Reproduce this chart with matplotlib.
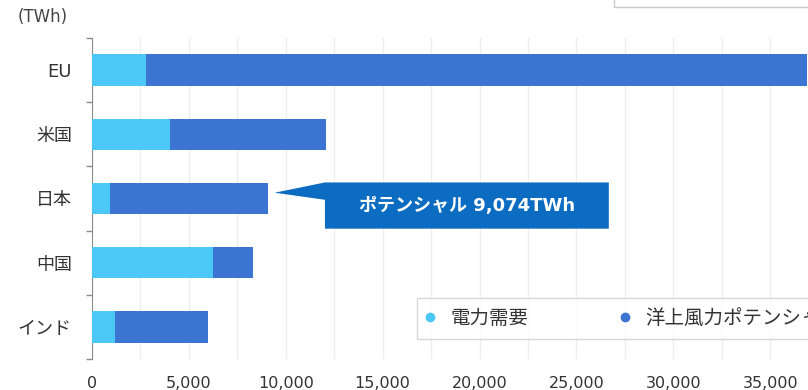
import matplotlib
matplotlib.use("Agg")
import matplotlib.pyplot as plt
from matplotlib.lines import Line2D
from matplotlib.patches import Polygon, Rectangle

plt.rcParams['font.family'] = ['DejaVu Sans', 'Noto Sans CJK JP']

# 各国・地域の電力需要と洋上風力ポテンシャル (TWh)
regions = ['EU', '米国', '日本', '中国', 'インド']
demand = [2800, 4000, 920, 6250, 1180]
potential = [36900, 12100, 9074, 8300, 5990]
xticks = [0, 5000, 10000, 15000, 20000, 25000, 30000, 35000]

c_demand = '#4CC8F6'
c_potential = '#3C74D2'
c_callout = '#0C6CC2'
c_text = '#333333'

fig = plt.figure(figsize=(8.08, 3.9), dpi=100)
ax = fig.add_axes([92 / 808, 31 / 390, 775 / 808, 321 / 390])

y = range(len(regions))
ax.barh(y, potential, height=0.49, color=c_potential, zorder=2)
ax.barh(y, demand, height=0.49, color=c_demand, zorder=3)

ax.set_xlim(0, 40000)
ax.set_ylim(len(regions) - 0.5, -0.5)

ax.set_xticks(xticks)
ax.set_xticklabels([f'{v:,}' for v in xticks])
ax.set_xticks([v for v in range(0, 40001, 2500)], minor=True)
ax.grid(axis='x', which='both', color='#EEEEEE', linewidth=1, zorder=0)
ax.tick_params(axis='x', which='both', length=0, pad=12, labelsize=11.5, labelcolor=c_text)

ax.set_yticks(list(y))
ax.set_yticklabels(regions)
ax.set_yticks([i - 0.5 for i in range(len(regions) + 1)], minor=True)
ax.tick_params(axis='y', which='major', length=0, pad=14.5, labelsize=13, labelcolor=c_text)
ax.tick_params(axis='y', which='minor', length=4.5, width=1, color='#8C8C8C')

for side in ['top', 'right', 'bottom']:
    ax.spines[side].set_visible(False)
ax.spines['left'].set_color('#8C8C8C')

fig.text(18 / 808, 1 - 17 / 390, '(TWh)', fontsize=12, color='#444444', va='center', ha='left')

# 日本のポテンシャルを示す吹き出し
jp = regions.index('日本')
jv = potential[jp]
tip_x, box_l, box_r = jv + 350, jv + 2950, jv + 17600
box_t, box_b = jp - 0.25, jp + 0.47
callout = Polygon([(tip_x, jp - 0.09), (box_l, box_t), (box_r, box_t), (box_r, box_b),
                   (box_l, box_b), (box_l, jp + 0.02)],
                  closed=True, facecolor=c_callout, edgecolor='none', zorder=4)
ax.add_patch(callout)
ax.text((box_l + box_r) / 2, (box_t + box_b) / 2, f'ポテンシャル {jv:,}TWh',
        color='white', fontsize=13, fontweight='bold', ha='center', va='center', zorder=5)

# 凡例
handles = [Line2D([], [], linestyle='none', marker='o', markersize=6, color=c_demand),
           Line2D([], [], linestyle='none', marker='o', markersize=6, color=c_potential)]
leg = fig.legend(handles, ['電力需要', '洋上風力ポテンシャル'], ncol=2,
                 loc='upper left', bbox_to_anchor=(417 / 808, 1 - 298 / 390),
                 borderaxespad=0, fontsize=14, frameon=True, fancybox=False,
                 borderpad=0.57, handlelength=0.2, handletextpad=0.95, columnspacing=4.85,
                 labelcolor=c_text)
leg.get_frame().set_edgecolor('#CFCFCF')
leg.get_frame().set_linewidth(1)

# 右上の枠
fig.patches.append(Rectangle((614 / 808, 1 - 7 / 390), 0.5, 0.2, transform=fig.transFigure,
                             facecolor='white', edgecolor='#C8C8C8', linewidth=1))

fig.savefig('out.png', dpi=100)
